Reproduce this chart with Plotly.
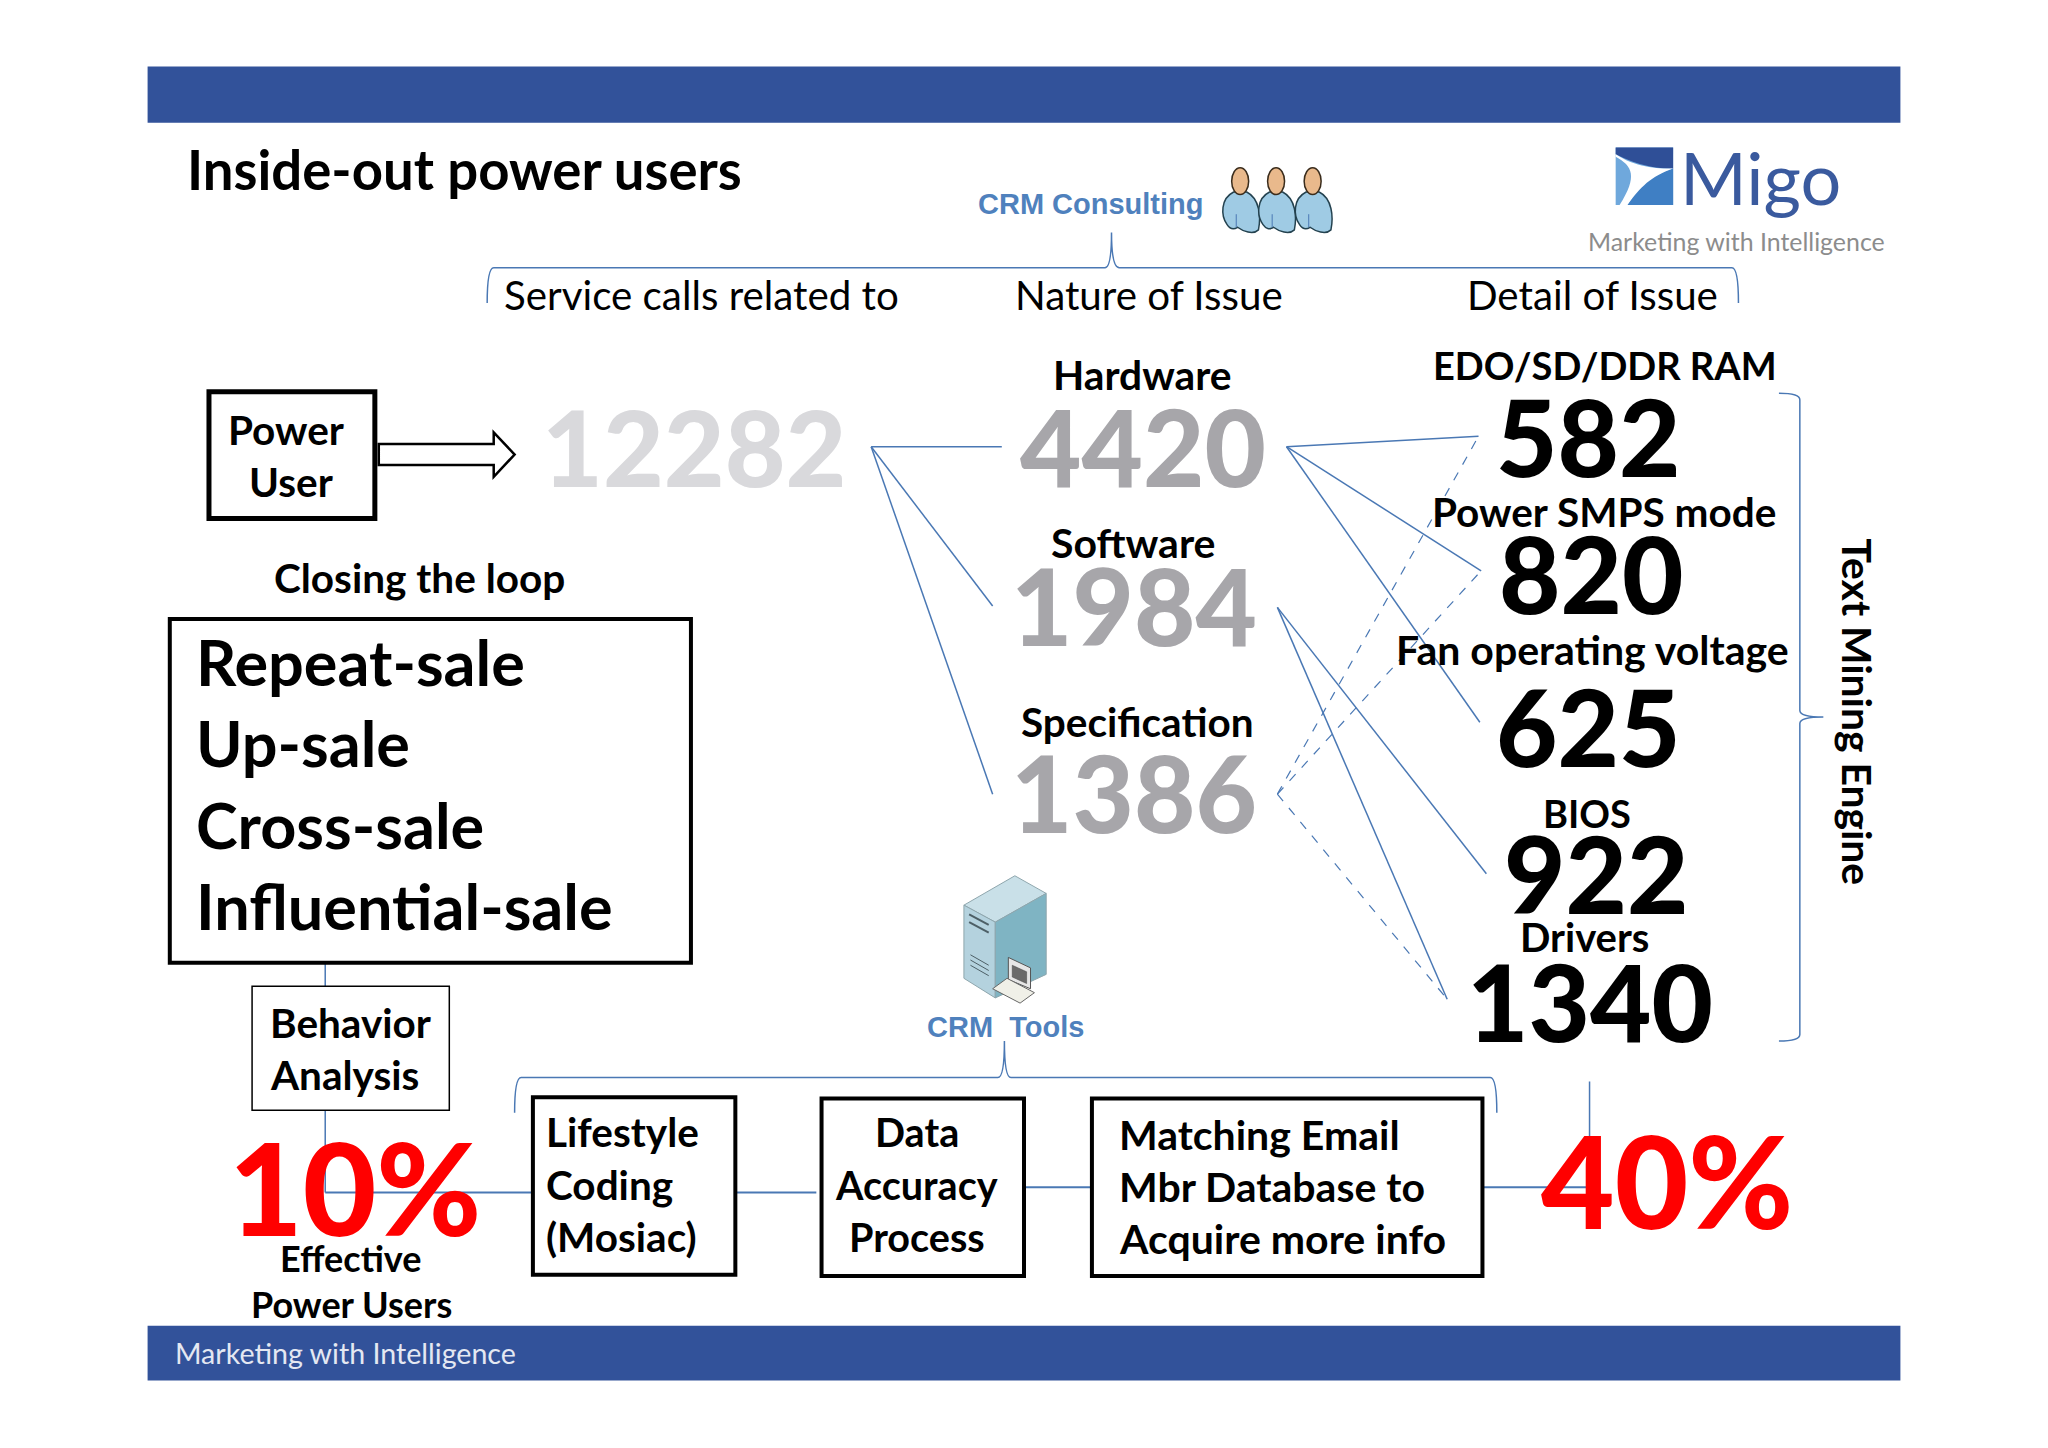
import plotly.graph_objects as go

# ---- chart content ----
TITLE = "Inside-out power users"
COLUMN_HEADS = ["Service calls related to", "Nature of Issue", "Detail of Issue"]
CONSULTING = "CRM Consulting"
TOOLS = "CRM  Tools"
TOTAL_CALLS = ["12282"]
NATURE_LABELS = ["Hardware", "Software", "Specification"]
NATURE_VALUES = ["4420", "1984", "1386"]
DETAIL_LABELS = ["EDO/SD/DDR RAM", "Power SMPS mode", "Fan operating voltage", "BIOS", "Drivers"]
DETAIL_VALUES = ["582", "820", "625", "922", "1340"]
POWER_USER = ["Power", "User"]
LOOP_HEAD = "Closing the loop"
LOOP_ITEMS = ["Repeat-sale", "Up-sale", "Cross-sale", "Influential-sale"]
BEHAVIOR = ["Behavior", "Analysis"]
LIFESTYLE = ["Lifestyle", "Coding", "(Mosiac)"]
ACCURACY = ["Data", "Accuracy", "Process"]
MATCHING = ["Matching Email", "Mbr Database to", "Acquire more info"]
PCT_LEFT = "10%"
PCT_RIGHT = "40%"
EFFECTIVE = ["Effective", "Power Users"]
ENGINE = "Text Mining Engine"
TAGLINE = "Marketing with Intelligence"
BRAND = "Migo"

# ---- styles ----
BAND = "#32529a"
LINE = "#4a78b4"
BLUE_TXT = "#4f81bd"
BODY = "Lato"
ARIAL = "Liberation Sans"

shapes, notes = [], []


def txt(text, x, y, size, color="#000000", weight=700, anchor="center", family=BODY, angle=0):
    dx = -1.5 if anchor == "left" else 0
    dy = -0.5 if family == BODY and angle == 0 else 0
    notes.append(dict(text=text, x=x + dx, y=y + dy, xref="x", yref="y", showarrow=False, xanchor=anchor,
                      yanchor="middle", textangle=angle,
                      font=dict(family=family, size=size, color=color, weight=weight)))


def rect(x0, y0, x1, y1, fill="rgba(0,0,0,0)", line="#000000", width=4):
    shapes.append(dict(type="rect", x0=x0, y0=y0, x1=x1, y1=y1, xref="x", yref="y", fillcolor=fill,
                       line=dict(color=line, width=width)))


def seg(x0, y0, x1, y1, dash="solid", width=1.5):
    shapes.append(dict(type="line", x0=x0, y0=y0, x1=x1, y1=y1, xref="x", yref="y",
                       line=dict(color=LINE, width=width, dash=dash)))


def path(d, fill="rgba(0,0,0,0)", line=LINE, width=1.5):
    shapes.append(dict(type="path", path=d, xref="x", yref="y", fillcolor=fill,
                       line=dict(color=line, width=width)))


# bands
rect(113, 51, 1455, 94, fill=BAND, line=BAND, width=0)
rect(113, 1015, 1455, 1057, fill=BAND, line=BAND, width=0)
txt(TAGLINE, 134, 1036, 28.6, color="#e4e8f2", weight=400, anchor="left")
txt(TITLE, 143, 130, 54.5, anchor="left")

# brackets
path("M373,232 Q373,205 378,205 L846,205 Q851,205 851,178 Q851,205 857,205 L1326,205 Q1331,205 1331,232")
path("M394,852 Q394,825 399,825 L764,825 Q769,825 769,797 Q769,825 774,825 L1141,825 Q1146,825 1146,852")
path("M1362,301 Q1378,301 1378,306 L1378,544 Q1378,549 1396,549 Q1378,549 1378,554 L1378,792 Q1378,797 1362,797")

# connectors
for ex, ey in [(767, 342), (760, 464), (760, 608)]:
    seg(667, 342, ex, ey)
for ex, ey in [(1132, 334), (1134, 437), (1133, 553)]:
    seg(985, 342, ex, ey)
for ex, ey in [(1138, 669), (1108, 765)]:
    seg(978, 465, ex, ey)
for ex, ey in [(1132, 334), (1134, 437), (1108, 765)]:
    seg(978, 608, ex, ey, dash="dash", width=1.2)
seg(249, 737, 249, 755)
seg(249, 850, 249, 913)
seg(249, 913, 408, 913, width=2)
seg(563, 913, 625, 913, width=2)
seg(785, 909, 836, 909, width=2)
seg(1135, 909, 1217, 909, width=2)
seg(1217, 828, 1217, 905)

# boxes
rect(160, 300, 287, 397, width=5)
rect(130, 474, 529, 737, width=4)
rect(193, 755, 344, 850, width=1.5)
rect(408, 840, 563, 976, width=4)
rect(629, 841, 784, 977, width=4)
rect(836, 841, 1135, 977, width=4)
path("M290,340 L378,340 L378,331 L394,348 L378,365 L378,356 L290,356 Z", fill="#ffffff", line="#000000", width=2.5)

# people icon
for cx in (949.5, 977, 1005):
    path(f"M{cx-10},172 C{cx-15},165 {cx-15},152 {cx-5},147 L{cx+5},147 C{cx+15},152 {cx+16},166 {cx+14},176 "
         f"C{cx+10},180 {cx+2},177 {cx-2},174 C{cx-5},176 {cx-8},175 {cx-10},172 Z",
         fill="#9fcbe4", line="#24424f", width=1.5)
    shapes.append(dict(type="circle", x0=cx - 6.5, x1=cx + 6.5, y0=128.5, y1=149, xref="x", yref="y",
                       fillcolor="#e9b98c", line=dict(color="#3a2c1c", width=1.5)))
    seg(cx - 3, 164, cx - 3, 174, width=1)

# server icon
path("M777,670.5 L801,684 L762,706 L738,693 Z", fill="#c9e0e8", line="#8ea6ad", width=1)
path("M738,693 L762,706 L762,764 L738,749 Z", fill="#b4d2de", line="#8ea6ad", width=1)
path("M762,706 L801,684 L801,746 L762,764 Z", fill="#7fb4c3", line="#8ea6ad", width=1)
for yy in (700, 706):
    path(f"M742,{yy} L757,{yy+8}", line="#4d5f66", width=2)
for yy in (731, 735, 739):
    path(f"M743,{yy} L757,{yy+8}", line="#4d5f66", width=1)
path("M772,733 L789,741 L789,757 L772,750 Z", fill="#e6e6e6", line="#555555", width=1)
path("M775,739 L786,744 L786,753 L775,748 Z", fill="#6a6a6a", line="#444444", width=0.5)
path("M760,757 L771,749 L792,760 L781,768 Z", fill="#f0f0e8", line="#666666", width=1)

# logo
rect(1237, 113, 1281, 157, fill="#6fa8dc", line="#6fa8dc", width=0)
path("M1237,113 L1281,113 L1281,129 C1268,129 1255,127 1237,118 Z", fill="#2f4f97", line="#2f4f97", width=0)
path("M1281,129 L1281,157 L1246,157 C1252,145 1262,135 1281,129 Z", fill="#3f7fc4", line="#3f7fc4", width=0)
path("M1237,120 C1250,127 1254,135 1240,157 L1246,157 C1256,143 1264,135 1281,129 "
     "C1268,129 1252,128 1237,118 Z", fill="#ffffff", line="#ffffff", width=0)
txt(BRAND, 1286, 136, 72, color="#3a5a9e", weight=400, anchor="left")
txt(TAGLINE, 1216, 185, 24.9, color="#8c8c8c", weight=400, anchor="left")

# headings
txt(CONSULTING, 835, 156, 29, color=BLUE_TXT, family=ARIAL)
txt(TOOLS, 770, 786, 29, color=BLUE_TXT, family=ARIAL)
for label, x in zip(COLUMN_HEADS, (386, 777, 1123)):
    txt(label, x, 226, 40.3, weight=400, anchor="left")

# left column
for label, x, y in zip(POWER_USER, (219, 223), (329, 369)):
    txt(label, x, y, 40.5)
txt(TOTAL_CALLS[0], 532, 342, 105, color="#d9d9dc", weight=900)
txt(LOOP_HEAD, 321, 443, 40.5)
for label, y in zip(LOOP_ITEMS, (507, 569, 632, 694)):
    txt(label, 150, y, 63, anchor="left")
for label, y in zip(BEHAVIOR, (783, 823)):
    txt(label, 207, y, 40.5, anchor="left")
txt(PCT_LEFT, 272, 909, 127, color="#ff0000", weight=900)
for label, y in zip(EFFECTIVE, (964, 999)):
    txt(label, 269, y, 36)

# nature column
for label, x, y, s in zip(NATURE_LABELS, (875, 868, 871), (287, 416, 553), (40.7, 41, 40.5)):
    txt(label, x, y, s)
for value, x, y in zip(NATURE_VALUES, (875, 868, 868), (342, 464, 607)):
    txt(value, x, y, 106, color="#a7a6aa", weight=900)

# detail column
for label, x, y, s in zip(DETAIL_LABELS, (1229, 1228, 1219, 1215, 1213), (280, 392, 498, 623, 718),
                          (38, 40.5, 41, 38, 40)):
    txt(label, x, y, s)
for value, x, y in zip(DETAIL_VALUES, (1216, 1218, 1216, 1222, 1217), (334, 439, 556, 669, 767)):
    txt(value, x, y, 106, weight=900)
txt(ENGINE, 1422, 545, 40.8, angle=90)

# bottom process
for label, y in zip(LIFESTYLE, (867, 907, 947)):
    txt(label, 418, y, 40.5, anchor="left")
for label, y in zip(ACCURACY, (867, 907, 947)):
    txt(label, 702, y, 39.6)
for label, y in zip(MATCHING, (869, 909, 949)):
    txt(label, 857, y, 41, anchor="left")
txt(PCT_RIGHT, 1276, 904, 127, color="#ff0000", weight=900)

fig = go.Figure()
fig.update_layout(
    width=2048, height=1448, autosize=False, margin=dict(l=0, r=0, t=0, b=0),
    paper_bgcolor="#ffffff", plot_bgcolor="#ffffff", showlegend=False,
    xaxis=dict(range=[0, 1568], visible=False, fixedrange=True),
    yaxis=dict(range=[1108.6, 0], visible=False, fixedrange=True),
    shapes=shapes, annotations=notes,
)
fig.write_html("out.html", post_script="document.body.style.margin='0';",
               config={"displayModeBar": False})
